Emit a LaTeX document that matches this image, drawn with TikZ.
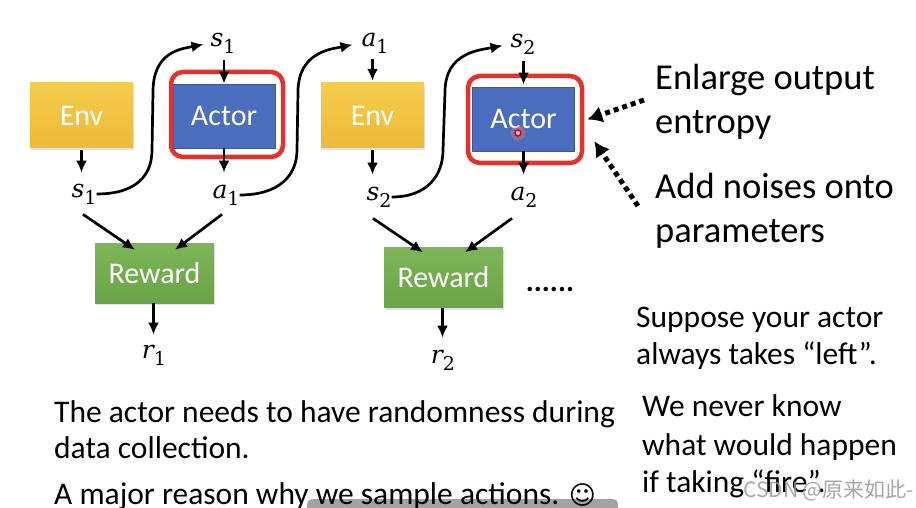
\documentclass[tikz,border=0pt]{standalone}
\usepackage{fontspec}
\setmainfont{Carlito}
\newfontfamily\symf{DejaVu Sans}
\newfontfamily\cjkf{Noto Sans CJK SC}
\newfontfamily\varf{DejaVu Serif}
\newcommand{\myvar}[2]{{\varf\itshape\fontsize{25}{25}\selectfont #1}{\varf\fontsize{19}{19}\selectfont\raisebox{-7pt}{#2}}}
\usetikzlibrary{arrows.meta,shadows,calc}
\definecolor{envT}{HTML}{F6CC4C}
\definecolor{envB}{HTML}{EBBA36}
\definecolor{actB}{HTML}{4A6DBD}
\definecolor{actBd}{HTML}{3A5A9E}
\definecolor{rewT}{HTML}{7DB659}
\definecolor{rewB}{HTML}{6AA447}
\definecolor{hlR}{HTML}{E4312B}
\tikzset{
  lbl/.style={inner sep=0pt},
  boxlbl/.style={text=white, font=\fontsize{30}{30}\selectfont, inner sep=0pt},
  shad/.style={drop shadow={shadow xshift=1pt, shadow yshift=-2pt, opacity=0.22}},
  envbox/.style={boxlbl, shad, top color=envT, bottom color=envB, minimum width=103pt, minimum height=65pt},
  actbox/.style={boxlbl, fill=actB, draw=actBd, line width=0.8pt, minimum width=102pt, minimum height=64pt},
  rewbox/.style={boxlbl, shad, top color=rewT, bottom color=rewB, minimum width=119pt, minimum height=60pt},
  hl/.style={draw=hlR, line width=4.5pt, rounded corners=12pt, inner sep=0pt},
  arr/.style={line width=2.7pt, -{Latex[length=12pt,width=11pt]}},
  dotarr/.style={line width=5pt, dash pattern=on 5pt off 4pt, -{Latex[length=15pt,width=17pt]}},
  txt/.style={anchor=base west, inner sep=0pt, font=\fontsize{31.5}{36}\selectfont},
  bigtxt/.style={anchor=base west, inner sep=0pt, font=\fontsize{36.5}{40}\selectfont},
}
\begin{document}
\begin{tikzpicture}[x=1pt,y=-1pt]
\useasboundingbox (0,0) rectangle (916,508);
\fill[white] (0,0) rectangle (916,508);

% video-player bar (behind the text)
\fill[black!42, opacity=0.85, rounded corners=5pt] (307,499) rectangle (618,518);

% boxes
\node[envbox] (env1) at (81.5,115.5) {Env};
\node[actbox] (act1) at (224,116) {Actor};
\node[envbox] (env2) at (372.5,115.5) {Env};
\node[actbox] (act2) at (523.5,119) {Actor};
\node[hl, minimum width=112pt, minimum height=85pt] (hl1) at (227,114.5) {};
\node[hl, minimum width=114pt, minimum height=87pt] (hl2) at (525,119.5) {};
\node[rewbox] (rew1) at (154.5,273) {Reward};
\node[rewbox] (rew2) at (443.5,277.5) {Reward};

% laser pointer dot
\node[circle, fill=red!55, opacity=0.35, minimum size=15pt, inner sep=0pt] (glow) at (518,133) {};
\node[circle, draw=red!85!black, line width=1.4pt, fill=white!80!red, minimum size=6pt, inner sep=0pt] (laser) at (518,133) {};

% labels
\node[lbl] (s1t) at (223,43) {\myvar{s}{1}};
\node[lbl] (a1t) at (375,43) {\myvar{a}{1}};
\node[lbl] (s2t) at (523,44) {\myvar{s}{2}};
\node[lbl] (s1b) at (84,194) {\myvar{s}{1}};
\node[lbl] (a1b) at (226,195) {\myvar{a}{1}};
\node[lbl] (s2b) at (379,197) {\myvar{s}{2}};
\node[lbl] (a2b) at (524,197) {\myvar{a}{2}};
\node[lbl] (r1) at (154,355) {\myvar{r}{1}};
\node[lbl] (r2) at (443,360) {\myvar{r}{2}};

% straight arrows
\draw[arr, shorten <=7pt] (s1t.south -| act1.north) -- (act1.north);
\draw[arr, shorten <=6pt, shorten >=2pt] (a1t.south -| env2.north) -- (env2.north);
\draw[arr, shorten <=7pt, shorten >=2pt] (s2t.south -| act2.north) -- (act2.north);
\draw[arr, shorten <=2pt, shorten >=11pt] (env1.south) -- (env1.south |- s1b.north);
\draw[arr, shorten >=12pt] (act1.south) -- (act1.south |- a1b.north);
\draw[arr, shorten <=2pt, shorten >=12pt] (env2.south) -- (env2.south |- s2b.north);
\draw[arr, shorten >=12pt] (act2.south) -- (act2.south |- a2b.north);
\draw[arr] ([shift={(-1,10)}]s1b.south) -- ([shift={(-19.5,7)}]rew1.north);
\draw[arr] ([shift={(-4,9)}]a1b.south) -- ([shift={(20.5,7)}]rew1.north);
\draw[arr] ([shift={(-6,11)}]s2b.south) -- ([shift={(-20.5,5)}]rew2.north);
\draw[arr] ([shift={(-12,11)}]a2b.south) -- ([shift={(21.5,5)}]rew2.north);
\draw[arr, shorten >=10pt] ([xshift=-1pt]rew1.south) -- ([xshift=-1pt]rew1.south |- r1.north);
\draw[arr, shorten >=12pt] ([xshift=-1pt]rew2.south) -- ([xshift=-1pt]rew2.south |- r2.north);

% curved arrows
\coordinate (c1a) at (152,150); \coordinate (c1b) at (153,92);
\coordinate (c2a) at (297,150); \coordinate (c2b) at (298,92);
\coordinate (c3a) at (443,150); \coordinate (c3b) at (445,92);
\draw[arr, shorten >=7pt] (s1b.east) .. controls +(40,0) and +(0,25) .. (c1a) -- (c1b) .. controls +(0,-40) and +(-30,6) .. (s1t.west);
\draw[arr, shorten >=9pt] (a1b.east) .. controls +(40,0) and +(0,25) .. (c2a) -- (c2b) .. controls +(0,-40) and +(-30,6) .. (a1t.west);
\draw[arr, shorten >=8pt] (s2b.east) .. controls +(36,0) and +(0,25) .. (c3a) -- (c3b) .. controls +(0,-40) and +(-30,6) .. (s2t.west);

% right-hand texts
\node[bigtxt] (enl1) at (655,89.5) {Enlarge output};
\node[bigtxt] (enl2) at (655,133.5) {entropy};
\node[bigtxt] (add1) at (655,198) {Add noises onto};
\node[bigtxt] (add2) at (655,242) {parameters};
\coordinate (d1) at (644,100);
\coordinate (d2) at (638,206);
\draw[dotarr] (d1) -- ([xshift=3pt]hl2.east);
\draw[dotarr] (d2) -- ([shift={(10,-24)}]hl2.south east);

\node[anchor=base, inner sep=0pt, font=\fontsize{30}{30}\selectfont\bfseries] (dots) at (550,291) {......};

\node[txt] (sup1) at (636,327) {Suppose your actor};
\node[txt] (sup2) at (636,364) {always takes “left”.};
\node[txt] (we1) at (642,416) {We never know};
\node[txt] (we2) at (642,455) {what would happen};
\node[txt] (we3) at (642,492) {if taking “fire”.};

\node[txt] (bl1) at (54,422) {The actor needs to have randomness during};
\node[txt] (bl2) at (54,458) {data collection.};
\node[txt] (bl3) at (54,504) {A major reason why we sample actions. {\symf\fontsize{26}{26}\selectfont ☺}};

% watermark
\node[anchor=base west, inner sep=0pt, text=gray!80, opacity=0.85, font=\cjkf\fontsize{21}{21}\selectfont] (wm) at (743,497) {CSDN @原来如此-};
\end{tikzpicture}
\end{document}
